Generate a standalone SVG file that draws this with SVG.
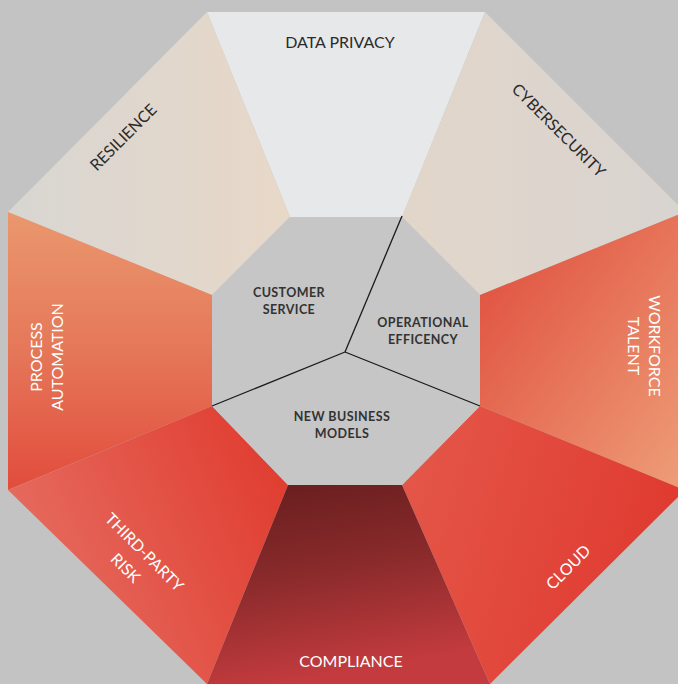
<svg xmlns="http://www.w3.org/2000/svg" width="678" height="684" viewBox="0 0 678 684">
<defs>
<style>
.lbl{font-family:Lato,"Open Sans","Liberation Sans",sans-serif;font-size:16px;text-anchor:middle;}
.dark{fill:#2b2b2b;}
.light{fill:#ffffff;}
.core{font-family:Lato,"Open Sans","Liberation Sans",sans-serif;font-size:12.5px;font-weight:bold;fill:#333333;text-anchor:middle;letter-spacing:0.4px;}
.conn{stroke:#1a1a1a;stroke-width:1.3;fill:none;}
</style>
<linearGradient id="gRes" x1="0" y1="0" x2="1" y2="0">
<stop offset="0" stop-color="#d8d6d2"/><stop offset="1" stop-color="#e8d8c8"/>
</linearGradient>
<linearGradient id="gCyb" x1="0" y1="0" x2="1" y2="0">
<stop offset="0" stop-color="#e2d6ca"/><stop offset="1" stop-color="#d8d4d0"/>
</linearGradient>
<linearGradient id="gProc" x1="0" y1="0" x2="0" y2="1">
<stop offset="0" stop-color="#ea986e"/><stop offset="0.5" stop-color="#e57759"/><stop offset="1" stop-color="#e24c3c"/>
</linearGradient>
<linearGradient id="gWork" x1="0" y1="0" x2="1" y2="1">
<stop offset="0" stop-color="#df4a3b"/><stop offset="1" stop-color="#ee9e78"/>
</linearGradient>
<linearGradient id="gCloud" x1="0" y1="0" x2="1" y2="0.3">
<stop offset="0" stop-color="#e4594a"/><stop offset="1" stop-color="#e03a30"/>
</linearGradient>
<linearGradient id="gThird" x1="0" y1="0.6" x2="1" y2="0.2">
<stop offset="0" stop-color="#e66e62"/><stop offset="1" stop-color="#e03c2f"/>
</linearGradient>
<linearGradient id="gComp" x1="0" y1="0" x2="0.25" y2="1">
<stop offset="0" stop-color="#661d1e"/><stop offset="0.5" stop-color="#8a2a2b"/><stop offset="1" stop-color="#c33b3e"/>
</linearGradient>
</defs>
<rect x="0" y="0" width="678" height="684" fill="#c3c3c3"/>

<g id="segment-data-privacy">
<polygon points="207,12 485,12 402,217 290,217" fill="#e6e8ea"/>
<text class="lbl dark" x="340" y="48">DATA PRIVACY</text>
</g>
<g id="segment-resilience">
<polygon points="8,212 207,12 290,217 212,295" fill="url(#gRes)"/>
<text class="lbl dark" transform="translate(123,137) rotate(-45)" x="0" y="6">RESILIENCE</text>
</g>
<g id="segment-cybersecurity">
<polygon points="485,12 685,212 480,295 402,217" fill="url(#gCyb)"/>
<text class="lbl dark" transform="translate(559,130) rotate(45)" x="0" y="6">CYBERSECURITY</text>
</g>
<g id="segment-process-automation">
<polygon points="8,212 212,295 212,406 8,490" fill="url(#gProc)"/>
<text class="lbl light" transform="translate(46.5,357) rotate(-90)"><tspan x="0" y="-4.8">PROCESS</tspan><tspan x="0" y="16.5">AUTOMATION</tspan></text>
</g>
<g id="segment-workforce-talent">
<polygon points="685,212 685,490 480,406 480,295" fill="url(#gWork)"/>
<text class="lbl light" transform="translate(644,346) rotate(90)"><tspan x="0" y="-5">WORKFORCE</tspan><tspan x="0" y="16.5">TALENT</tspan></text>
</g>
<g id="segment-third-party-risk">
<polygon points="8,490 212,406 288,485 207,684" fill="url(#gThird)"/>
<text class="lbl light" transform="translate(135,560) rotate(45)"><tspan x="1" y="-6.5">THIRD-PARTY</tspan><tspan x="-1" y="18">RISK</tspan></text>
</g>
<g id="segment-cloud">
<polygon points="685,490 490,684 402,485 480,406" fill="url(#gCloud)"/>
<text class="lbl light" transform="translate(568,567) rotate(-45)" x="0" y="6">CLOUD</text>
</g>
<g id="segment-compliance">
<polygon points="288,485 402,485 490,684 207,684" fill="url(#gComp)"/>
<text class="lbl light" x="351" y="667">COMPLIANCE</text>
</g>

<g id="core">
<polygon points="290,217 402,217 480,295 480,406 402,485 288,485 212,406 212,295" fill="#c6c6c6"/>
</g>

<g id="connectors">
<line class="conn" x1="345" y1="352" x2="402" y2="216"/>
<line class="conn" x1="345" y1="352" x2="480" y2="406"/>
<line class="conn" x1="345" y1="352" x2="212" y2="406"/>
</g>

<g id="core-customer-service">
<text class="core"><tspan x="289" y="296.5">CUSTOMER</tspan><tspan x="289" y="313.5">SERVICE</tspan></text>
</g>
<g id="core-operational-efficency">
<text class="core"><tspan x="423" y="326.5">OPERATIONAL</tspan><tspan x="423" y="343.5">EFFICENCY</tspan></text>
</g>
<g id="core-new-business-models">
<text class="core"><tspan x="342" y="420.5">NEW BUSINESS</tspan><tspan x="342" y="437.5">MODELS</tspan></text>
</g>
</svg>
